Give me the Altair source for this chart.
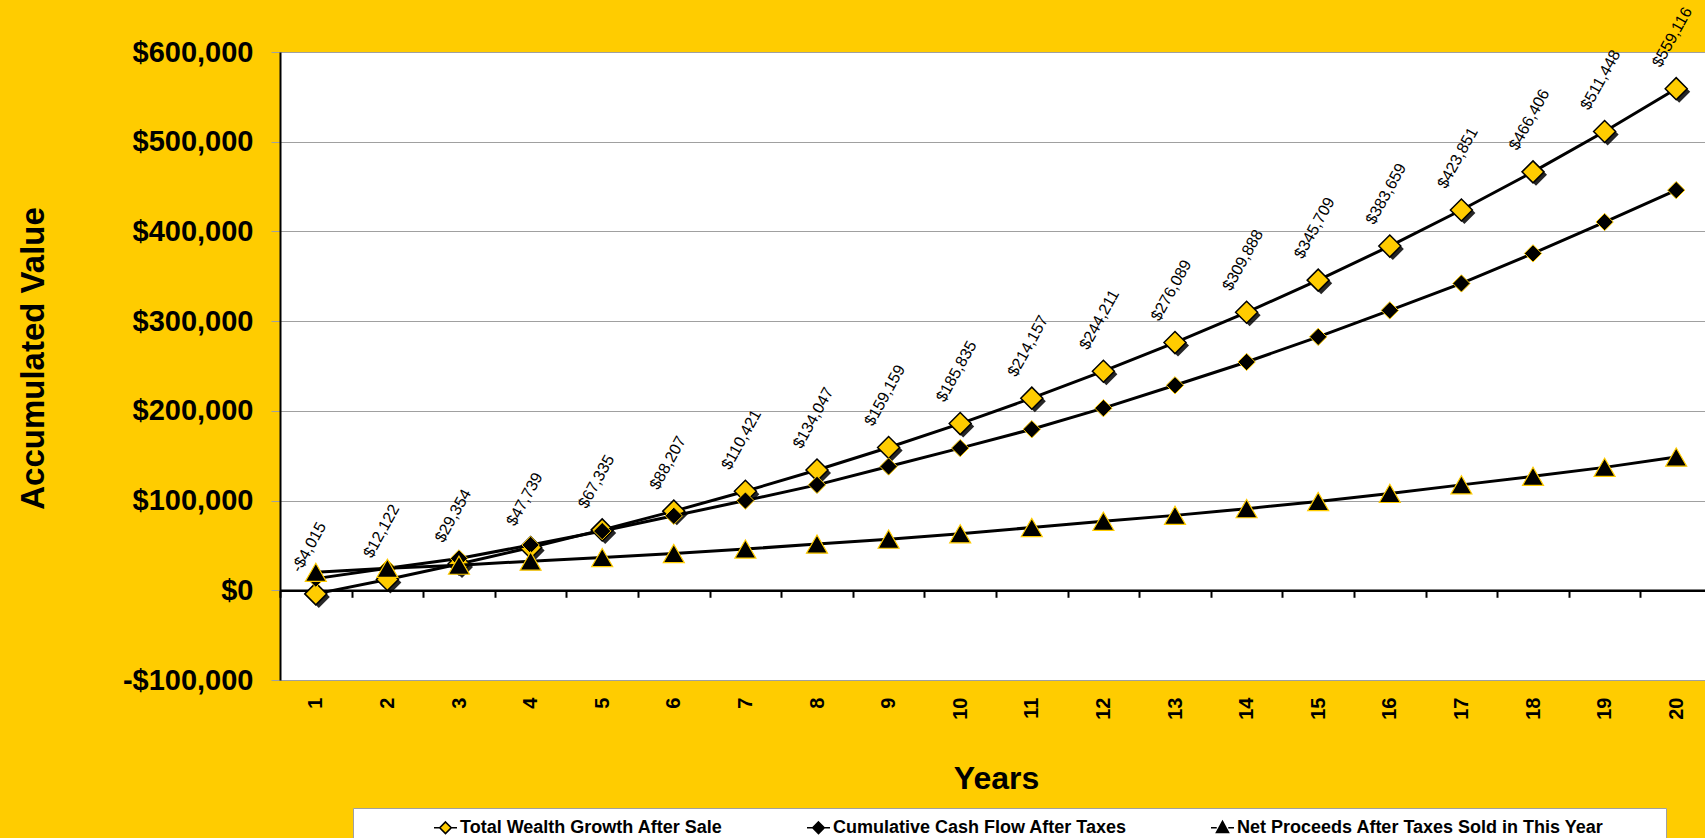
import altair as alt
import pandas as pd

# ---------------- data ----------------
years = list(range(1, 21))
series_names = [
    "Total Wealth Growth After Sale",
    "Cumulative Cash Flow After Taxes",
    "Net Proceeds After Taxes Sold in This Year",
]
total_wealth = [-4015, 12122, 29354, 47739, 67335, 88207, 110421, 134047, 159159, 185835,
                214157, 244211, 276089, 309888, 345709, 383659, 423851, 466406, 511448, 559116]
cumulative_cash = [13000, 24500, 35500, 50500, 66000, 83000, 100000, 117500, 138000, 158500,
                   179500, 203000, 228500, 254500, 282500, 312000, 342000, 375500, 410500, 446000]
net_proceeds = [20000, 24500, 28000, 32500, 36500, 41000, 46000, 51500, 57000, 63000,
                70000, 77000, 83500, 91000, 99000, 108000, 117500, 127000, 137000, 148500]
y_ticks = [-100000, 0, 100000, 200000, 300000, 400000, 500000, 600000]

rows = []
for name, vals in zip(series_names, [total_wealth, cumulative_cash, net_proceeds]):
    for yr, v in zip(years, vals):
        rows.append({"year": yr, "series": name, "value": v})
df = pd.DataFrame(rows)

YELLOW = "#FFCC00"
FONT = "Liberation Sans"
W, H = 1425, 628
XRANGE = 1432
ZW = "\u200b"       # zero-width char keeps padding spaces from being trimmed
NB = "\u00a0"

boundaries = [y - 0.5 for y in years] + [years[-1] + 0.5]

xscale = alt.Scale(domain=[0.5, 20.5], range=[0, XRANGE], nice=False, zero=False)

x_labels = alt.X(
    "year:Q", scale=xscale,
    axis=alt.Axis(
        orient="bottom", values=years, format="d", labelAngle=270, labelFontSize=20,
        labelFontWeight="bold", labelColor="black", labelPadding=17, domain=False,
        ticks=False, grid=False, labelFlush=False, labelOverlap=False,
        title="Years", titleFontSize=32, titleFontWeight="bold", titleColor="black",
        titleY=98, titleBaseline="middle",
    ),
)
x_ticks = alt.X(
    "year:Q", scale=xscale,
    axis=alt.Axis(
        orient="bottom", values=boundaries, labels=False, domain=True, domainColor="black",
        domainWidth=2.5, ticks=True, tickColor="black", tickWidth=2, tickSize=7,
        grid=False, offset=-H / 7, title=None,
    ),
)
x_none = alt.X("year:Q", scale=xscale, axis=None)

label_expr = ("datum.value < 0 ? '-$' + format(-datum.value, ',') : "
              "'$' + format(datum.value, ',')")
y_enc = alt.Y(
    "value:Q",
    scale=alt.Scale(domain=[-100000, 600000], nice=False, zero=False),
    axis=alt.Axis(
        values=y_ticks, labelExpr=label_expr, labelFontSize=29, labelFontWeight="bold",
        labelColor="black", labelPadding=18, grid=True, gridColor="#a0a0a0", gridWidth=1,
        domainColor="black", domainWidth=2, tickColor="#a0a0a0", tickSize=9,
        title="Accumulated Value", titleFontSize=33, titleFontWeight="bold",
        titleColor="black", titleX=-247, titleY=306, titleAngle=270,
        titleAlign="center", titleBaseline="middle",
    ),
)

base = alt.Chart(df)


def sel(i):
    return alt.datum.series == series_names[i]


# legend carrier: tiny points hidden under the yellow diamonds
legend_paths = [
    "M-1,0L-0.5,0M0.5,0L1,0M0,-0.5L0.5,0L0,0.5L-0.5,0Z",
    "M-1,0L-0.5,0M0.5,0L1,0M0,-0.5L0.5,0L0,0.5L-0.5,0Z",
    "M-1,0L-0.5,0M0.5,0L1,0M0,-0.55L0.52,0.4L-0.52,0.4Z",
]
last = series_names[2]
legend_label_expr = ("datum.label == '" + last + "' ? datum.label + '" + NB * 11 + ZW
                     + "' : datum.label")
legend_def = alt.Legend(
    orient="none", legendX=73, legendY=756, direction="horizontal",
    fillColor="white", strokeColor="#a0a0a0", padding=7, columnPadding=80,
    labelFont=FONT, labelFontSize=18, labelFontWeight="bold", labelColor="black",
    labelLimit=800, labelOffset=2, labelExpr=legend_label_expr,
    symbolSize=529, symbolStrokeColor="black", symbolStrokeWidth=1.6, symbolOpacity=1,
    title=ZW + NB * 13 + ZW, titleOrient="left", titleColor="white", titleFontSize=18,
    titlePadding=7,
)
legend_layer = base.transform_filter(sel(0)).mark_point(
    filled=True, size=4, strokeWidth=1.6
).encode(
    x=x_ticks, y=y_enc,
    shape=alt.Shape("series:N", scale=alt.Scale(domain=series_names, range=legend_paths),
                    legend=legend_def),
    fill=alt.Fill("series:N", scale=alt.Scale(domain=series_names,
                                              range=[YELLOW, "black", "black"]),
                  legend=legend_def),
    stroke=alt.Stroke("series:N", scale=alt.Scale(domain=series_names,
                                                  range=["black", "black", "black"]),
                      legend=legend_def),
)

line_total = base.transform_filter(sel(0)).mark_line(color="black", strokeWidth=3).encode(
    x=x_labels, y=y_enc)
shadow_total = base.transform_filter(sel(0)).mark_point(
    shape="diamond", filled=True, color="black", opacity=0.85, size=484, xOffset=3, yOffset=3
).encode(x=x_none, y=y_enc)
pts_total = base.transform_filter(sel(0)).mark_point(
    shape="diamond", filled=True, fill=YELLOW, stroke="black", strokeWidth=1.5,
    opacity=1, size=484
).encode(x=x_none, y=y_enc)

line_cum = base.transform_filter(sel(1)).mark_line(color="black", strokeWidth=3).encode(
    x=x_none, y=y_enc)
pts_cum = base.transform_filter(sel(1)).mark_point(
    shape="diamond", filled=True, fill="black", stroke=YELLOW, strokeWidth=1,
    opacity=1, size=300
).encode(x=x_none, y=y_enc)

line_net = base.transform_filter(sel(2)).mark_line(color="black", strokeWidth=3).encode(
    x=x_none, y=y_enc)
pts_net = base.transform_filter(sel(2)).mark_point(
    shape="triangle-up", filled=True, fill="black", stroke=YELLOW, strokeWidth=1.2,
    opacity=1, size=440
).encode(x=x_none, y=y_enc)

labels = base.transform_filter(sel(0)).transform_calculate(
    label=label_expr
).mark_text(
    align="left", baseline="alphabetic", angle=299, dx=10.4, dy=-23.5,
    fontSize=16, font=FONT, color="black"
).encode(x=x_none, y=y_enc, text="label:N")

chart = alt.layer(
    legend_layer,
    line_total, shadow_total, pts_total,
    line_cum, pts_cum,
    line_net, pts_net,
    labels,
).resolve_axis(x="independent").properties(
    width=W, height=H,
    background=YELLOW,
    padding={"left": 280, "top": 52, "right": 0, "bottom": 158},
    autosize=alt.AutoSizeParams(type="none"),
).configure(font=FONT).configure_view(fill="white", strokeOpacity=0)

chart.save("out.html", embed_options={"renderer": "svg", "actions": False})
